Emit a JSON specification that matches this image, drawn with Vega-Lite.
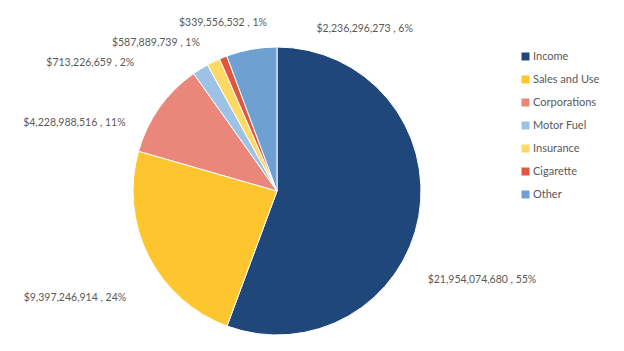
{
  "$schema": "https://vega.github.io/schema/vega-lite/v6.json",
  "width": 554,
  "height": 320,
  "autosize": {"type": "none"},
  "padding": {"left": 0, "top": 31, "right": 70, "bottom": 0},
  "background": "white",
  "config": {"view": {"stroke": null}, "font": "Lato"},
  "data": {
    "values": [
      {"idx": 1, "category": "Income", "value": 21954074680, "label": "$21,954,074,680 , 55%"},
      {"idx": 2, "category": "Sales and Use", "value": 9397246914, "label": "$9,397,246,914 , 24%"},
      {"idx": 3, "category": "Corporations", "value": 4228988516, "label": "$4,228,988,516 , 11%"},
      {"idx": 4, "category": "Motor Fuel", "value": 713226659, "label": "$713,226,659 , 2%"},
      {"idx": 5, "category": "Insurance", "value": 587889739, "label": "$587,889,739 , 1%"},
      {"idx": 6, "category": "Cigarette", "value": 339556532, "label": "$339,556,532 , 1%"},
      {"idx": 7, "category": "Other", "value": 2236296273, "label": "$2,236,296,273 , 6%"}
    ]
  },
  "encoding": {
    "theta": {"field": "value", "type": "quantitative", "stack": true},
    "order": {"field": "idx", "type": "quantitative"}
  },
  "layer": [
    {
      "mark": {"type": "arc", "outerRadius": 144, "stroke": "white", "strokeWidth": 1},
      "encoding": {
        "color": {
          "field": "category", "type": "nominal",
          "sort": ["Income", "Sales and Use", "Corporations", "Motor Fuel", "Insurance", "Cigarette", "Other"],
          "scale": {
            "domain": ["Income", "Sales and Use", "Corporations", "Motor Fuel", "Insurance", "Cigarette", "Other"],
            "range": ["#20477A", "#FDC62E", "#EA867A", "#9EC2E6", "#FFD966", "#E0573F", "#6FA0D2"]
          },
          "legend": {
            "orient": "none", "legendX": 520, "legendY": 20, "title": null,
            "symbolType": "square", "symbolSize": 64, "symbolStrokeWidth": 0,
            "labelFont": "Lato", "labelFontSize": 11, "labelColor": "#595959",
            "labelOffset": 2, "rowPadding": 11, "padding": 0
          }
        }
      }
    },
    {
      "mark": {"type": "text", "radius": 150, "align": "left", "baseline": "middle", "dx": 3, "dy": 63, "fontSize": 10.5, "fill": "#595959"},
      "encoding": {"detail": {"field": "category"}, "text": {"condition": {"test": "datum.category === 'Income'", "field": "label"}, "value": ""}}
    },
    {
      "mark": {"type": "text", "radius": 150, "align": "right", "baseline": "middle", "dx": -17, "dy": 39, "fontSize": 10.5, "fill": "#595959"},
      "encoding": {"detail": {"field": "category"}, "text": {"condition": {"test": "datum.category === 'Sales and Use'", "field": "label"}, "value": ""}}
    },
    {
      "mark": {"type": "text", "radius": 150, "align": "right", "baseline": "middle", "dx": -29, "dy": 19, "fontSize": 10.5, "fill": "#595959"},
      "encoding": {"detail": {"field": "category"}, "text": {"condition": {"test": "datum.category === 'Corporations'", "field": "label"}, "value": ""}}
    },
    {
      "mark": {"type": "text", "radius": 150, "align": "right", "baseline": "middle", "dx": -63, "dy": -1, "fontSize": 10.5, "fill": "#595959"},
      "encoding": {"detail": {"field": "category"}, "text": {"condition": {"test": "datum.category === 'Motor Fuel'", "field": "label"}, "value": ""}}
    },
    {
      "mark": {"type": "text", "radius": 150, "align": "right", "baseline": "middle", "dx": -11, "dy": -13, "fontSize": 10.5, "fill": "#595959"},
      "encoding": {"detail": {"field": "category"}, "text": {"condition": {"test": "datum.category === 'Insurance'", "field": "label"}, "value": ""}}
    },
    {
      "mark": {"type": "text", "radius": 150, "align": "right", "baseline": "middle", "dx": 46, "dy": -29, "fontSize": 10.5, "fill": "#595959"},
      "encoding": {"detail": {"field": "category"}, "text": {"condition": {"test": "datum.category === 'Cigarette'", "field": "label"}, "value": ""}}
    },
    {
      "mark": {"type": "text", "radius": 150, "align": "left", "baseline": "middle", "dx": 66, "dy": -14, "fontSize": 10.5, "fill": "#595959"},
      "encoding": {"detail": {"field": "category"}, "text": {"condition": {"test": "datum.category === 'Other'", "field": "label"}, "value": ""}}
    }
  ]
}
